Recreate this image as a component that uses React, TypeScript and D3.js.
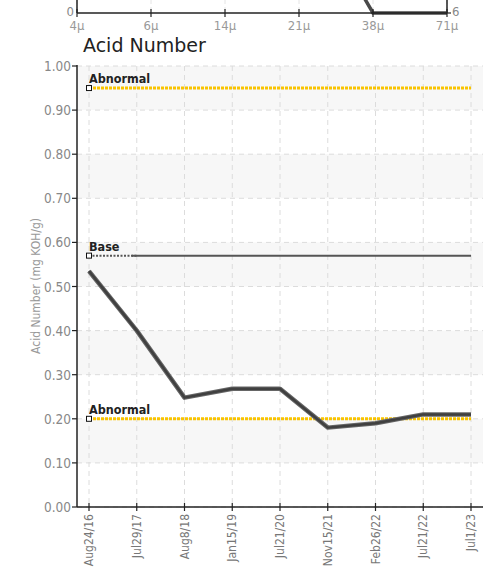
import React from 'react';
import * as d3 from 'd3';

// top (cut-off) chart
const topTicks = ['4\u03bc', '6\u03bc', '14\u03bc', '21\u03bc', '38\u03bc', '71\u03bc'];
const topSeries = [
  { tick: '21\u03bc', value: 1200 },
  { tick: '38\u03bc', value: 0 },
  { tick: '71\u03bc', value: 0 },
];

// acid number chart
const dates = ['Aug24/16', 'Jul29/17', 'Aug8/18', 'Jan15/19', 'Jul21/20', 'Nov15/21', 'Feb26/22', 'Jul21/22', 'Jul1/23'];
const acidValues = [0.535, 0.40, 0.248, 0.268, 0.268, 0.18, 0.19, 0.21, 0.21];
const abnormalHigh = 0.95;
const abnormalLow = 0.20;
const baseValue = 0.57;
const yTicks = [0, 0.1, 0.2, 0.3, 0.4, 0.5, 0.6, 0.7, 0.8, 0.9, 1.0];

const FONT = '"DejaVu Sans Condensed", "Liberation Sans Narrow", sans-serif';

const App: React.FC = () => {
  const width = 492;
  const height = 567;

  const tx = d3.scalePoint<string>().domain(topTicks).range([77, 447]);
  const ty = d3.scaleLinear().domain([0, 2000]).range([13, -200]);
  const topLine = d3.line<{ tick: string; value: number }>()
    .x(d => tx(d.tick) as number)
    .y(d => ty(d.value));

  const x = d3.scalePoint<string>().domain(dates).range([89, 471]);
  const y = d3.scaleLinear().domain([0, 1]).range([507, 66]);
  const plotLeft = 77;
  const plotRight = 483;

  const line = d3.line<number>()
    .x((_, i) => x(dates[i]) as number)
    .y(d => y(d));

  const x0 = x(dates[0]) as number;
  const x1 = x(dates[1]) as number;
  const xLast = x(dates[dates.length - 1]) as number;

  const bands = d3.range(0, 10).filter(i => i % 2 === 1);

  return (
    <svg width={width} height={height} style={{ position: 'absolute', left: 0, top: 0 }}
      fontFamily={FONT} fontStretch="condensed">
      <rect width={width} height={height} fill="#fff" />

      {/* top chart remnant */}
      {topTicks.map(t => (
        <line key={'tg' + t} x1={tx(t)} x2={tx(t)} y1={0} y2={13} stroke="#e4e4e4" strokeDasharray="4,3" />
      ))}
      <line x1={77} x2={77} y1={0} y2={13} stroke="#222" strokeWidth={1.5} />
      <line x1={447} x2={447} y1={0} y2={13} stroke="#222" strokeWidth={1.5} />
      <path d={topLine(topSeries) || ''} fill="none" stroke="#4a4a4a" strokeWidth={3.5} />
      <line x1={77} x2={447} y1={13} y2={13} stroke="#222" strokeWidth={1.5} />
      {topTicks.map(t => (
        <g key={'tt' + t}>
          <line x1={tx(t)} x2={tx(t)} y1={9} y2={17} stroke="#222" strokeWidth={1.2} />
          <text x={tx(t)} y={30} fontSize={13} fill="#999" textAnchor="middle">{t}</text>
        </g>
      ))}
      <text x={74} y={16} fontSize={13} fill="#888" textAnchor="end">0</text>
      <line x1={447} x2={451} y1={13} y2={13} stroke="#222" strokeWidth={1.2} />
      <text x={452} y={16} fontSize={13} fill="#888">6</text>

      {/* title */}
      <text x={83} y={52} fontSize={19} fill="#222" fontFamily='"DejaVu Sans", sans-serif' fontStretch="normal">Acid Number</text>

      {/* background bands */}
      {bands.map(i => (
        <rect key={'b' + i} x={plotLeft} width={plotRight - plotLeft}
          y={y((i + 1) / 10)} height={y(i / 10) - y((i + 1) / 10)} fill="#f7f7f7" />
      ))}

      {/* grid */}
      {yTicks.map(v => (
        <line key={'hg' + v} x1={plotLeft} x2={plotRight} y1={y(v)} y2={y(v)} stroke="#dcdcdc" strokeDasharray="5,4" />
      ))}
      {dates.map(d => (
        <line key={'vg' + d} x1={x(d)} x2={x(d)} y1={66} y2={507} stroke="#dcdcdc" strokeDasharray="5,4" />
      ))}

      {/* reference lines */}
      <line x1={x0} x2={xLast} y1={y(abnormalHigh)} y2={y(abnormalHigh)} stroke="#f9c400" strokeWidth={3} strokeDasharray="3,1" />
      <line x1={x0} x2={xLast} y1={y(abnormalLow)} y2={y(abnormalLow)} stroke="#f9c400" strokeWidth={3} strokeDasharray="3,1" />
      <line x1={x0} x2={x1} y1={y(baseValue)} y2={y(baseValue)} stroke="#555" strokeWidth={2} strokeDasharray="2,1.5" />
      <line x1={x1 - 5} x2={xLast} y1={y(baseValue)} y2={y(baseValue)} stroke="#555" strokeWidth={2} />

      {/* data line */}
      <path d={line(acidValues) || ''} fill="none" stroke="#666" strokeWidth={4.5} strokeLinejoin="round" />
      <path d={line(acidValues) || ''} fill="none" stroke="#404040" strokeWidth={2.5} strokeLinejoin="round" />

      {/* markers + labels */}
      {[abnormalHigh, baseValue, abnormalLow].map((v, i) => (
        <g key={'m' + i}>
          <rect x={x0 - 2.5} y={y(v) - 2.5} width={5} height={5} fill="#fff" stroke="#111" strokeWidth={1} />
          <text x={x0} y={y(v) - 5} fontSize={12.5} fontWeight="bold" fill="#222">
            {v === baseValue ? 'Base' : 'Abnormal'}
          </text>
        </g>
      ))}

      {/* axes */}
      <line x1={plotLeft} x2={plotLeft} y1={y(1) - 1} y2={507} stroke="#222" strokeWidth={1.5} />
      <line x1={plotLeft} x2={plotRight} y1={507} y2={507} stroke="#222" strokeWidth={1.5} />
      {yTicks.map(v => (
        <g key={'yt' + v}>
          <line x1={plotLeft - 5} x2={plotLeft} y1={y(v)} y2={y(v)} stroke="#222" strokeWidth={1.2} />
          <text x={plotLeft - 6} y={y(v) + 5} fontSize={13.5} fill="#888" textAnchor="end">{v.toFixed(2)}</text>
        </g>
      ))}
      {dates.map(d => (
        <g key={'xt' + d}>
          <line x1={x(d)} x2={x(d)} y1={503} y2={511} stroke="#222" strokeWidth={1.2} />
          <text transform={`translate(${(x(d) as number) + 4},514) rotate(-90)`} fontSize={12} fill="#777" textAnchor="end">{d}</text>
        </g>
      ))}
      <text transform="translate(40,286) rotate(-90)" fontSize={12} fill="#999" textAnchor="middle">Acid Number (mg KOH/g)</text>
    </svg>
  );
};

export default App;
